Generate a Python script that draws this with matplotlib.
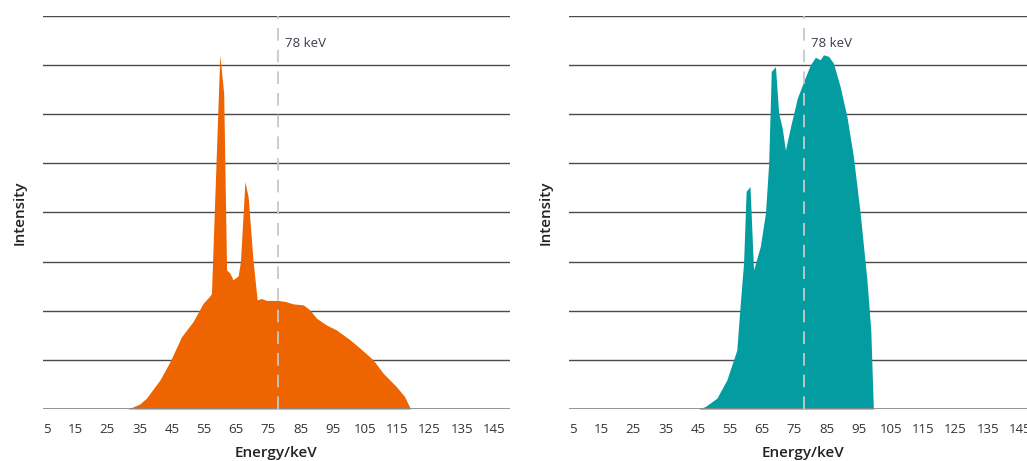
import matplotlib
matplotlib.use("Agg")
import matplotlib.pyplot as plt

plt.rcParams['font.family'] = ['Open Sans', 'DejaVu Sans']

# Left spectrum (orange)
energy_left = [5, 31.4, 35.0, 37.1, 41.3, 44.4, 48.0, 51.6, 54.7, 56.8, 57.3, 59.9, 61.1, 62.0,
               63.0, 64.0, 65.6, 66.3, 67.7, 68.7, 70.2, 71.5, 72.8, 74.4, 78.0, 80.1, 82.7,
               85.8, 87.8, 89.9, 93.0, 96.1, 100.3, 103.4, 107.5, 110.6, 114.8, 117.3, 119.1, 150]
intensity_left = [0, 0, 0.10, 0.22, 0.59, 0.96, 1.47, 1.78, 2.15, 2.30, 2.35, 7.21, 6.43, 2.83,
                  2.77, 2.63, 2.71, 3.0, 4.63, 4.32, 3.03, 2.22, 2.25, 2.21, 2.21, 2.19, 2.14,
                  2.12, 2.02, 1.85, 1.71, 1.61, 1.41, 1.24, 1.00, 0.73, 0.45, 0.25, 0, 0]

# Right spectrum (teal)
energy_right = [5, 45.2, 47.3, 50.9, 54.0, 57.1, 58.1, 59.2, 60.0, 61.2, 62.3, 64.4, 66.0, 67.0,
                67.8, 69.1, 70.1, 71.2, 72.2, 73.8, 75.9, 78.3, 79.9, 81.5, 83.0, 84.0, 85.6,
                87.1, 89.2, 91.3, 93.3, 95.4, 97.5, 98.7, 99.5, 150]
intensity_right = [0, 0, 0.05, 0.22, 0.59, 1.20, 2.08, 2.97, 4.43, 4.53, 2.83, 3.31, 3.99, 5.00,
                   6.87, 6.97, 6.02, 5.72, 5.27, 5.75, 6.33, 6.74, 7.00, 7.16, 7.11, 7.21, 7.18,
                   7.04, 6.56, 5.95, 5.14, 3.99, 2.63, 1.61, 0, 0]

xticks = list(range(5, 150, 10))
grid_levels = list(range(0, 9))
marker_energy = 78
marker_label = "78 keV"

W, H = 1027, 461
fig = plt.figure(figsize=(W / 100, H / 100), dpi=100)

def make_axes(left_px, energy, intensity, color):
    ax = fig.add_axes([left_px / W, (H - 409) / H, 467 / W, 393 / H])
    ax.set_xlim(5, 150)
    ax.set_ylim(0, 8)
    for lvl in grid_levels[1:]:
        ax.axhline(lvl, color='#4a4a4a', lw=1.0, zorder=1)
    ax.fill_between(energy, intensity, 0, color=color, lw=0, zorder=2)
    ax.axhline(0, color='#8a8a8a', lw=2.0, zorder=3)
    ax.axvline(marker_energy, color='#c8c8c8', lw=1.3, ls=(0, (7, 5)), zorder=4)
    ax.text(marker_energy + 2.0, 7.45, marker_label, fontsize=9.5, color='#3c3c4a',
            va='center', ha='left', zorder=5)
    for s in ax.spines.values():
        s.set_visible(False)
    ax.set_yticks([])
    ax.set_xticks(xticks)
    labels = ax.set_xticklabels([str(t) for t in xticks], fontsize=9.5, color='#333333')
    labels[0].set_horizontalalignment('left')
    ax.tick_params(axis='x', length=0, pad=10)
    ax.set_xlabel("Energy/keV", fontsize=11, fontweight='semibold', color='#222222', labelpad=7)
    ax.set_ylabel("Intensity", fontsize=11, fontweight='semibold', color='#222222', labelpad=12)
    return ax

make_axes(43, energy_left, intensity_left, '#EE6400')
make_axes(569, energy_right, intensity_right, '#039DA1')

fig.savefig("out.png", dpi=100)
